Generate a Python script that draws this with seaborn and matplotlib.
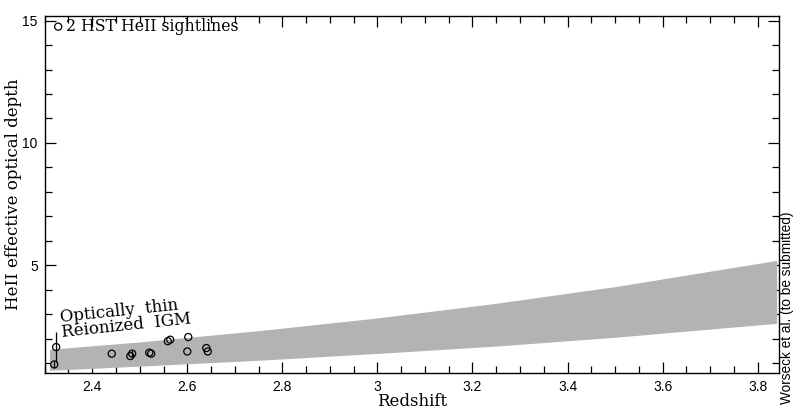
import numpy as np
import pandas as pd
import matplotlib
matplotlib.use("Agg")
import matplotlib.pyplot as plt
from matplotlib.ticker import MultipleLocator
import seaborn as sns

# ---- data ----
band_z = [2.31, 2.5, 2.75, 3.0, 3.25, 3.5, 3.84]
band_low = [0.71, 0.88, 1.12, 1.40, 1.70, 2.06, 2.63]
band_high = [1.57, 1.87, 2.33, 2.85, 3.45, 4.13, 5.2]

pt_z = [2.324, 2.32, 2.441, 2.48, 2.484, 2.52, 2.524, 2.559, 2.564, 2.602, 2.600, 2.640, 2.643]
pt_tau = [1.66, 0.95, 1.39, 1.29, 1.39, 1.43, 1.39, 1.90, 1.96, 2.07, 1.48, 1.62, 1.48]
pt_err = [0.60, 0.15, 0.0, 0.0, 0.15, 0.0, 0.0, 0.0, 0.0, 0.0, 0.0, 0.0, 0.0]

x_ticks = [2.4, 2.6, 2.8, 3.0, 3.2, 3.4, 3.6, 3.8]
x_labels = ["2.4", "2.6", "2.8", "3", "3.2", "3.4", "3.6", "3.8"]
y_ticks = [5, 10, 15]
y_labels = ["5", "10", "15"]

sns.set_theme(style="ticks")
plt.rcParams["font.family"] = ["DejaVu Serif"]
plt.rcParams["text.color"] = "black"
plt.rcParams["axes.labelcolor"] = "black"
plt.rcParams["xtick.color"] = "black"
plt.rcParams["ytick.color"] = "black"

fig = plt.figure(figsize=(7.96, 4.08), dpi=100)
ax = fig.add_axes([0.0562, 0.0858, 0.9787 - 0.0562, 0.9615 - 0.0858])

ax.fill_between(band_z, band_low, band_high, color="#b3b3b3", lw=0, zorder=1)

df = pd.DataFrame({"z": pt_z, "tau": pt_tau, "err": pt_err})
eb = df[df["err"] > 0]
ax.errorbar(eb["z"], eb["tau"], yerr=eb["err"], fmt="none", ecolor="black",
            elinewidth=0.9, capsize=0, zorder=2)
sns.scatterplot(data=df, x="z", y="tau", ax=ax, marker="o", s=26,
                facecolors="none", edgecolor="black", linewidth=0.9,
                label="2 HST HeII sightlines", zorder=3)

ax.set_xlim(2.3, 3.845)
ax.set_ylim(0.6, 15.2)
ax.set_xticks(x_ticks)
ax.set_xticklabels(x_labels, fontfamily="Liberation Sans", fontsize=10)
ax.set_yticks(y_ticks)
ax.set_yticklabels(y_labels, fontfamily="Liberation Sans", fontsize=10)
ax.xaxis.set_minor_locator(MultipleLocator(0.05))
ax.yaxis.set_minor_locator(MultipleLocator(1))
ax.tick_params(which="both", direction="in", top=True, right=True, color="black",
               width=0.9, pad=5)
ax.tick_params(which="major", length=8)
ax.tick_params(which="minor", length=5)
for s in ax.spines.values():
    s.set_color("black")
    s.set_linewidth(1.0)

ax.set_xlabel("Redshift", fontsize=12, labelpad=-1)
ax.set_ylabel("HeII effective optical depth", fontsize=12)
ax.yaxis.set_label_coords(-0.031, 0.5)

leg = ax.legend(loc="upper left", bbox_to_anchor=(-0.002, 1.014), frameon=False,
                handletextpad=0.0, borderaxespad=0.05, handlelength=1.0,
                prop={"family": "DejaVu Serif", "size": 11.3})

ax.text(2.338, 1.92, "Optically  thin\nReionized  IGM", rotation=6, fontsize=12,
        ha="left", va="bottom", linespacing=0.8, rotation_mode="anchor")

fig.text(0.989, 0.245, "Worseck et al. (to be submitted)", rotation=90,
         fontfamily="Liberation Sans", fontsize=9.8, ha="center", va="center")

fig.savefig("out.png", dpi=100)
